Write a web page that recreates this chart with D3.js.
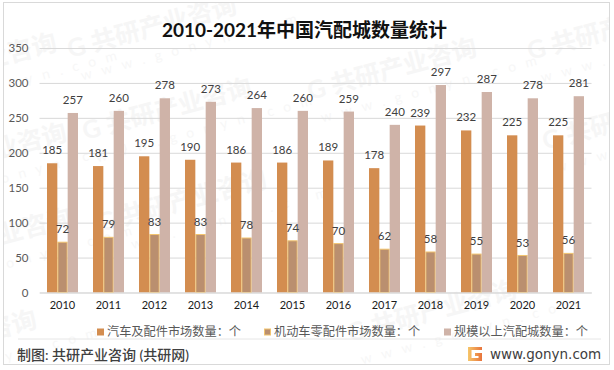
<!DOCTYPE html>
<html>
<head>
<meta charset="utf-8">
<script src="https://cdn.jsdelivr.net/npm/d3@7"></script>
<style>
	html, body {margin: 0; padding: 0; background: #fff;}
	svg {display: block; font-family: Lato, "Noto Sans CJK SC", sans-serif;}
</style>
</head>
<body>
<svg id="chart" width="614" height="370"></svg>
<script>
const years = ["2010","2011","2012","2013","2014","2015","2016","2017","2018","2019","2020","2021"];
const marketCount = [185,181,195,190,186,186,189,178,239,232,225,225];
const motorPartsCount = [72,79,83,83,78,74,70,62,58,55,53,56];
const cityCount = [257,260,278,273,264,260,259,240,297,287,278,281];
const seriesNames = ["汽车及配件市场数量：个","机动车零配件市场数量：个","规模以上汽配城数量：个"];
const yTicks = [0,50,100,150,200,250,300,350];
// watermark anchors
const markX = [70,85,310,100,350,530,545,-110,-100,-95,-130];
const markY = [58,140,100,232,342,60,150,95,185,270,372];

const colors = ["#D38D50","#BA8F6F","#CFB3A8"];
const margin = {top: 48, right: 22.5, bottom: 77.5, left: 39.5};
const width = 614, height = 370;
const svg = d3.select("#chart");

//cornice
svg.append("clipPath").attr("id", "frameClip").append("rect").
	attr("x", 4).attr("y", 3).attr("width", 605).attr("height", 361);
svg.append("rect").
	attr("x", 3.5).attr("y", 2.5).
	attr("width", 606).attr("height", 362).
	attr("fill", "#fff").attr("stroke", "#d9d9d9");

//filigrana
const marks = svg.append("g").attr("class", "marks").attr("clip-path", "url(#frameClip)");
markX.forEach((mx, i) => {
	const g = marks.append("g").attr("transform", "translate(" + mx + "," + markY[i] + ") rotate(-15)");
	g.append("text").
		attr("font-size", 25).attr("font-weight", 700).attr("fill", "#f6f6f6").
		text("G 共研产业咨询");
	g.append("text").
		attr("x", 6).attr("y", 25).
		attr("font-size", 14).attr("letter-spacing", 10).attr("fill", "#f7f7f7").
		text("www.gonyn.com");
});

const x0 = d3.scaleBand().domain(years).range([margin.left, width - margin.right]).paddingInner(0.326).paddingOuter(0.163);
const x1 = d3.scaleBand().domain([0,1,2]).range([0, x0.bandwidth()]);
// asse x su bande intere per centrare le etichette
const xAxisScale = d3.scaleBand().domain(years).range([margin.left, width - margin.right]);
const y = d3.scaleLinear().domain([0,350]).range([height - margin.bottom, margin.top]);

//griglia
svg.append("g").
	attr("transform", "translate(" + margin.left + ",0)").
	call(d3.axisLeft(y).tickValues(yTicks).tickSize(-(width - margin.left - margin.right)).tickPadding(11)).
	call(g => g.select(".domain").remove()).
	call(g => g.selectAll("line").attr("stroke", "#d9d9d9")).
	call(g => g.selectAll("text").attr("font-size", 11.5).attr("fill", "#595959").attr("font-family", "Lato, sans-serif"));

const series = [marketCount, motorPartsCount, cityCount];
series.forEach((values, s) => {
	svg.append("g").selectAll("rect").
		data(values).
		enter().append("rect").
		attr("x", (d, i) => x0(years[i]) + x1(s) + (s === 1 ? 0.5 : 0)).
		attr("y", d => y(d)).
		attr("width", x1.bandwidth() - (s === 1 ? 1 : 0)).
		attr("height", d => y(0) - y(d)).
		attr("fill", colors[s]).
		attr("stroke", s === 1 ? "#F2C46F" : "none");
});
series.forEach((values, s) => {
	svg.append("g").selectAll("text").
		data(values).
		enter().append("text").
		attr("x", (d, i) => x0(years[i]) + x1(s) + x1.bandwidth() / 2).
		attr("y", d => y(d) - 13).
		attr("dy", ".35em").
		attr("text-anchor", "middle").
		attr("font-size", 11.5).
		attr("fill", "#404040").
		text(d => d);
});

svg.append("g").
	attr("transform", "translate(0," + y(0) + ")").
	call(d3.axisBottom(xAxisScale).tickSize(0).tickPadding(9)).
	call(g => g.select(".domain").attr("stroke", "#d9d9d9")).
	call(g => g.selectAll("text").attr("font-size", 11).attr("fill", "#1a1a1a").attr("font-family", "Lato, sans-serif"));

//titolo
svg.append("text").
	attr("x", 304.5).attr("y", 37).
	attr("text-anchor", "middle").
	attr("font-size", 19).attr("font-weight", 700).attr("fill", "#111").
	text("2010-2021年中国汽配城数量统计");

//legenda
const legendX = [97, 264, 444];
seriesNames.forEach((name, i) => {
	svg.append("rect").
		attr("x", legendX[i] + (i === 1 ? 0.5 : 0)).
		attr("y", 328.5 + (i === 1 ? 0.5 : 0)).
		attr("width", i === 1 ? 6 : 7).attr("height", i === 1 ? 6 : 7).
		attr("fill", colors[i]).
		attr("stroke", i === 1 ? "#F2C46F" : "none");
	svg.append("text").
		attr("x", legendX[i] + 10).attr("y", 332).
		attr("dy", ".35em").
		attr("font-size", 12.2).attr("fill", "#595959").
		text(name);
});

//piede
svg.append("line").
	attr("x1", 18).attr("x2", 601).attr("y1", 339).attr("y2", 339).
	attr("stroke", "#e6e6e6");
svg.append("text").
	attr("x", 17).attr("y", 355).
	attr("dy", ".35em").
	attr("font-size", 14).attr("font-weight", 500).attr("fill", "#404040").
	text("制图: 共研产业咨询 (共研网)");

const logoGrad = svg.append("linearGradient").attr("id", "logoGrad").
	attr("x1", 0).attr("x2", 1).attr("y1", 0).attr("y2", 0);
logoGrad.append("stop").attr("offset", 0).attr("stop-color", "#F6C66A");
logoGrad.append("stop").attr("offset", 1).attr("stop-color", "#E8743C");
svg.append("path").
	attr("d", "M468 347H482V350H471.5V358H478.5V356H475V353H482V361H468Z").
	attr("fill", "url(#logoGrad)");
svg.append("text").
	attr("x", 490).attr("y", 354).
	attr("dy", ".35em").
	attr("font-family", "DejaVu Sans, sans-serif").
	attr("font-size", 13.5).attr("fill", "#404040").
	text("www.gonyn.com");
</script>
</body>
</html>
